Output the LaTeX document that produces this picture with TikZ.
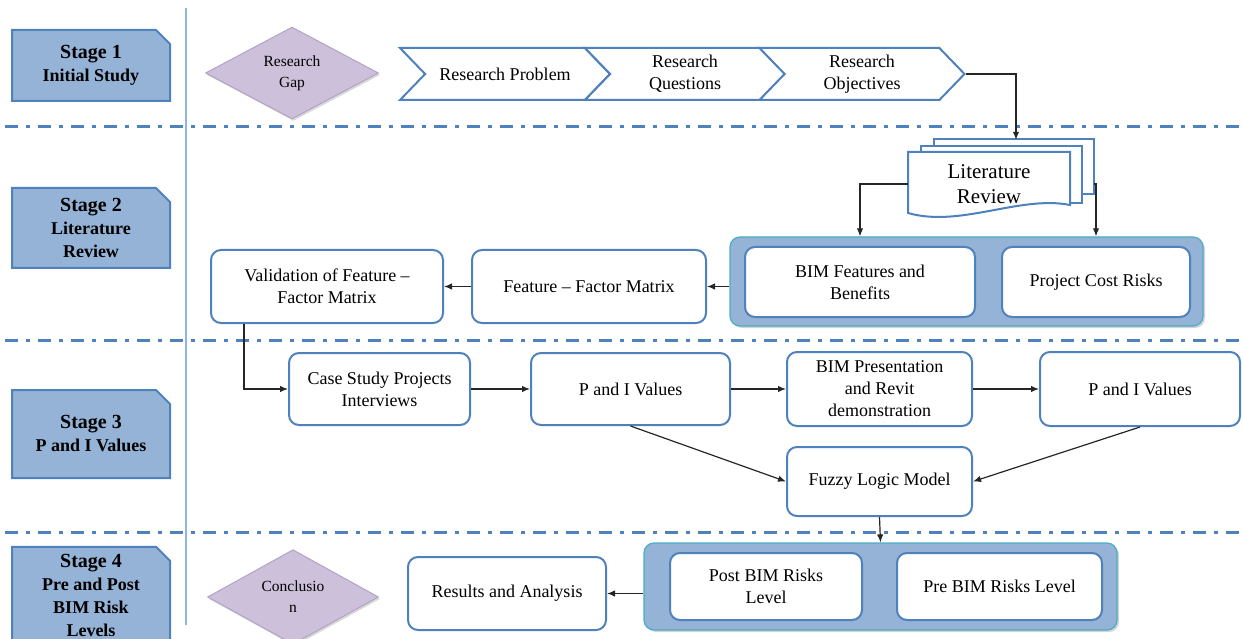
\documentclass[tikz,border=0pt]{standalone}
\usepackage{fontspec}
\setmainfont{Liberation Serif}
\usepackage{xcolor}
\usepackage{tikz}
\usetikzlibrary{arrows.meta,positioning,shapes.geometric,shapes.misc,shapes.symbols,calc,shadows}
\definecolor{edgeblue}{RGB}{79,129,189}
\definecolor{stagefill}{RGB}{149,179,215}
\definecolor{groupedge}{RGB}{75,172,198}
\definecolor{gapfill}{RGB}{204,192,218}
\definecolor{gapedge}{RGB}{179,162,199}
\definecolor{axisblue}{RGB}{142,180,227}
\newcommand{\stagetitle}{\fontsize{20}{23}\selectfont}
\tikzset{
    stagebox/.style={
        chamfered rectangle,
        chamfered rectangle corners=north east,
        chamfered rectangle xsep=7pt,
        chamfered rectangle ysep=7pt,
        draw=edgeblue,
        line width=2pt,
        fill=stagefill,
        align=center,
        inner sep=0pt,
        minimum width=158pt,
        font=\fontsize{18}{23}\selectfont\bfseries
    },
    gapdiamond/.style={
        diamond,
        draw=gapedge,
        line width=1pt,
        fill=gapfill,
        inner sep=0pt,
        align=center,
        font=\fontsize{15.5}{21}\selectfont,
        drop shadow={shadow xshift=1.5pt, shadow yshift=-2pt, opacity=0.3, fill=black!50}
    },
    chevron/.style={
        signal,
        signal from=west,
        signal to=east,
        signal pointer angle=92,
        draw=edgeblue,
        line width=2pt,
        fill=white,
        align=center,
        inner sep=0pt,
        minimum height=52pt
    },
    pagesheet/.style={draw=edgeblue, line width=2pt, fill=white},
    itembox/.style={
        rectangle,
        rounded corners=10pt,
        draw=edgeblue,
        line width=2pt,
        fill=white,
        align=center,
        inner sep=2pt
    },
    groupbox/.style={
        rectangle,
        rounded corners=10pt,
        draw=groupedge,
        line width=1.2pt,
        fill=stagefill,
        drop shadow={shadow xshift=2pt, shadow yshift=-2pt, opacity=0.35, fill=black!50}
    },
    flow/.style={-{Latex[length=8pt,width=6.5pt]}, line width=1.2pt, draw=black!85},
    phaseline/.style={draw=edgeblue, line width=3pt, dash pattern=on 13pt off 8pt on 4pt off 8pt},
    axisline/.style={draw=axisblue, line width=1.5pt}
}

\begin{document}
\begin{tikzpicture}[x=1pt, y=-1pt, font=\fontsize{18}{22}\selectfont]
    \useasboundingbox (0,0) rectangle (1243,639);

    % stage separators
    \foreach \yy in {127,340,532}
        \draw[phaseline] (5,\yy) -- (1243,\yy);
    \draw[axisline] (186,8) -- (186,625);

    % stage labels
    \node[stagebox, minimum height=71pt] (stage1) at (91,65.5)
        {{\stagetitle Stage 1}\\Initial Study};
    \node[stagebox, minimum height=80pt] (stage2) at (91,228)
        {{\stagetitle Stage 2}\\Literature\\Review};
    \node[stagebox, minimum height=88pt] (stage3) at (91,434)
        {{\stagetitle Stage 3}\\P and I Values};
    \node[stagebox, minimum height=94pt] (stage4) at (91,595)
        {{\stagetitle Stage 4}\\Pre and Post\\BIM Risk\\Levels};

    % stage 1
    \node[gapdiamond, minimum width=173pt, minimum height=91pt] (gap) at (292,73)
        {Research\\Gap};
    \node[chevron, minimum width=210pt] (problem) at (505,74) {Research Problem};
    \node[chevron, minimum width=200pt] (questions) at (685,74) {Research\\Questions};
    \node[chevron, minimum width=205pt] (objectives) at (862,74) {Research\\Objectives};

    % stage 2
    \draw[pagesheet] (934,139) rectangle (1094,194);
    \draw[pagesheet] (921,146) rectangle (1082,203);
    \draw[pagesheet] (908,152) -- (1070,152) -- (1070,205)
        .. controls (1020,195) and (960,228) .. (908,213) -- cycle;
    \node[font=\fontsize{21}{25}\selectfont, align=center, inner sep=0pt,
        minimum width=162pt, minimum height=64pt] (litrev) at (989,184)
        {Literature\\Review};

    \node[groupbox, minimum width=473pt, minimum height=89pt] (bimgroup) at (966.5,281.5) {};
    \node[itembox, minimum width=230pt, minimum height=70pt] (bimfeat) at (860,282)
        {BIM Features and\\Benefits};
    \node[itembox, minimum width=188pt, minimum height=70pt] (costrisk) at (1096,282)
        {Project Cost Risks};
    \node[itembox, minimum width=234pt, minimum height=73pt] (featmat) at (589,286.5)
        {Feature -- Factor Matrix};
    \node[itembox, minimum width=232pt, minimum height=73pt] (valid) at (327,286.5)
        {Validation of Feature --\\Factor Matrix};

    % stage 3
    \node[itembox, minimum width=181pt, minimum height=72pt] (casestudy) at (379.5,389)
        {Case Study Projects\\Interviews};
    \node[itembox, minimum width=199pt, minimum height=72pt] (pival1) at (630.5,389)
        {P and I Values};
    \node[itembox, minimum width=185pt, minimum height=74pt] (bimpres) at (879.5,389)
        {BIM Presentation\\and Revit\\demonstration};
    \node[itembox, minimum width=200pt, minimum height=74pt] (pival2) at (1140,389)
        {P and I Values};
    \node[itembox, minimum width=185pt, minimum height=69pt] (fuzzy) at (879.5,481.5)
        {Fuzzy Logic Model};

    % stage 4
    \node[gapdiamond, minimum width=171pt, minimum height=90pt] (conclusion) at (293,597)
        {Conclusio\\n};
    \node[groupbox, minimum width=473pt, minimum height=87pt] (riskgroup) at (880.5,586.5) {};
    \node[itembox, minimum width=192pt, minimum height=67pt] (postrisk) at (766,586.5)
        {Post BIM Risks\\Level};
    \node[itembox, minimum width=205pt, minimum height=67pt] (prerisk) at (999.5,586.5)
        {Pre BIM Risks Level};
    \node[itembox, minimum width=198pt, minimum height=73pt] (results) at (507,593.5)
        {Results and Analysis};

    \draw[flow] (objectives.east) -| ([xshift=27pt, yshift=12pt]litrev.north);
    \draw[flow] (litrev.west) -| (bimfeat.north |- bimgroup.north);
    \draw[flow] ([xshift=24pt]litrev.east) -| (costrisk.north |- bimgroup.north);
    \draw[flow] (bimgroup.west |- featmat.east) -- (featmat.east);
    \draw[flow] (featmat.west) -- (valid.east);
    \draw[flow] ([xshift=34pt]valid.south west) |- (casestudy.west);
    \draw[flow] (casestudy) -- (pival1);
    \draw[flow] (pival1) -- (bimpres);
    \draw[flow] (bimpres) -- (pival2);
    \draw[flow] (pival1.south) -- (fuzzy.west);
    \draw[flow] (pival2.south) -- (fuzzy.east);
    \draw[flow] (fuzzy.south) -- (riskgroup.north);
    \draw[flow] (riskgroup.west |- results.east) -- (results.east);
\end{tikzpicture}
\end{document}
